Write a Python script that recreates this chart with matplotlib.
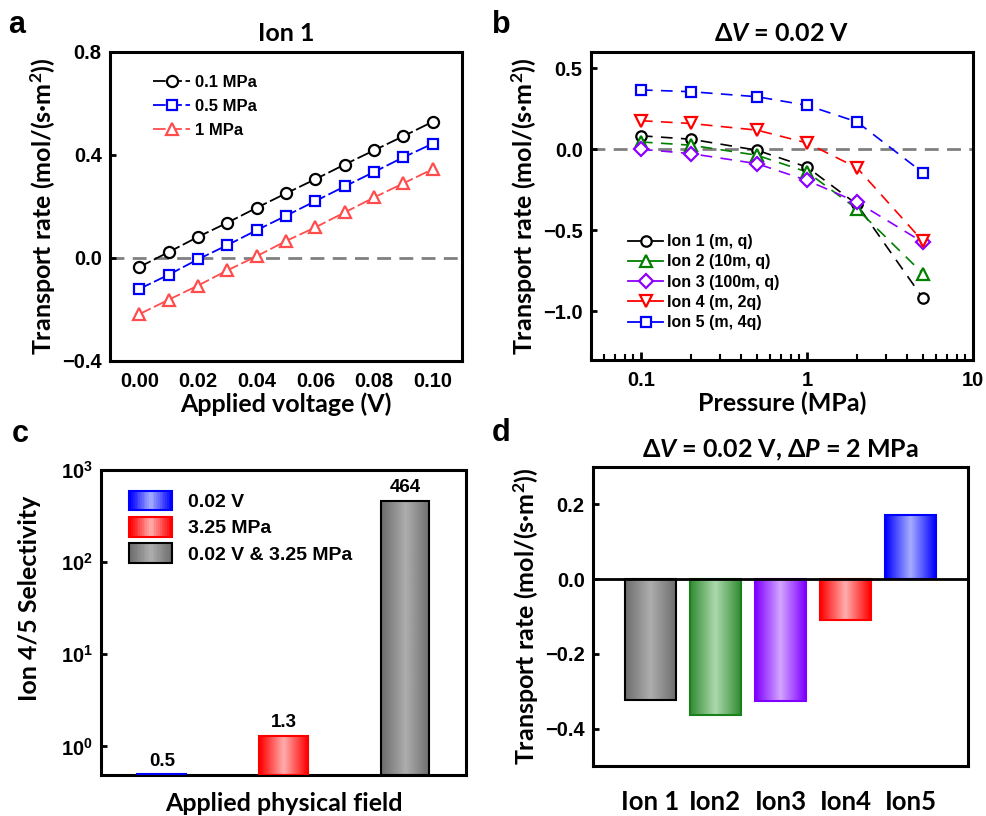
import numpy as np
import matplotlib
matplotlib.use('Agg')
from matplotlib import pyplot as plt
from matplotlib.patches import Rectangle, Patch
from matplotlib.lines import Line2D
from matplotlib.legend_handler import HandlerBase
from matplotlib.ticker import LogLocator, NullFormatter, NullLocator

plt.rcParams['font.family'] = ['Liberation Sans', 'DejaVu Sans']
plt.rcParams['font.weight'] = 'bold'
plt.rcParams['mathtext.fontset'] = 'custom'
plt.rcParams['mathtext.rm'] = 'Lato:bold'
plt.rcParams['mathtext.it'] = 'Lato:italic:bold'
plt.rcParams['mathtext.bf'] = 'Lato:bold'
plt.rcParams['axes.linewidth'] = 2.2
plt.rcParams['axes.unicode_minus'] = True

LABEL_FONT = ['Lato', 'DejaVu Sans']

# ---- panel a data
voltage = [0.00, 0.01, 0.02, 0.03, 0.04, 0.05, 0.06, 0.07, 0.08, 0.09, 0.10]
rate_01MPa = [-0.035, 0.023, 0.082, 0.137, 0.195, 0.251, 0.306, 0.363, 0.418, 0.473, 0.529]
rate_05MPa = [-0.120, -0.065, -0.005, 0.050, 0.108, 0.164, 0.221, 0.278, 0.334, 0.391, 0.444]
rate_1MPa = [-0.218, -0.162, -0.107, -0.048, 0.007, 0.066, 0.119, 0.177, 0.235, 0.290, 0.345]

# ---- panel b data
pressure = [0.1, 0.2, 0.5, 1, 2, 5]
ion1 = [0.083, 0.062, -0.006, -0.110, -0.340, -0.919]
ion2 = [0.045, 0.025, -0.037, -0.140, -0.368, -0.767]
ion3 = [0.000, -0.027, -0.089, -0.192, -0.326, -0.574]
ion4 = [0.176, 0.159, 0.118, 0.039, -0.114, -0.568]
ion5 = [0.366, 0.355, 0.324, 0.271, 0.169, -0.145]
ion_labels = ['Ion 1 (m, q)', 'Ion 2 (10m, q)', 'Ion 3 (100m, q)', 'Ion 4 (m, 2q)', 'Ion 5 (m, 4q)']

# ---- panel c data
field_labels = ['0.02 V', '3.25 MPa', '0.02 V & 3.25 MPa']
selectivity = [0.5, 1.3, 464]
selectivity_text = ['0.5', '1.3', '464']

# ---- panel d data
ion_names = ['Ion 1', 'Ion2', 'Ion3', 'Ion4', 'Ion5']
rate_d = [-0.323, -0.364, -0.325, -0.110, 0.171]

# gradient colours (edge, centre, outline)
GRAY = ((0.43, 0.43, 0.43), (0.68, 0.68, 0.68), 'black')
BLUE = ((0.0, 0.0, 1.0), (0.65, 0.68, 1.0), (0.0, 0.0, 1.0))
RED = ((1.0, 0.0, 0.0), (1.0, 0.68, 0.68), (1.0, 0.0, 0.0))
GREEN = ((0.2, 0.55, 0.2), (0.68, 0.85, 0.68), (0.1, 0.5, 0.1))
PURPLE = ((0.5, 0.0, 1.0), (0.83, 0.65, 1.0), (0.5, 0.0, 1.0))


def grad_row(edge, centre, n=64):
    t = np.abs(np.linspace(-1, 1, n))
    e = np.array(edge)
    c = np.array(centre)
    return c[None, :] * (1 - t[:, None]) + e[None, :] * t[:, None]


def gradient_bar(ax, bar, style):
    edge, centre, outline = style
    img = grad_row(edge, centre)[None, :, :]
    x0 = bar.get_x()
    x1 = x0 + bar.get_width()
    y0 = bar.get_y()
    y1 = bar.get_y() + bar.get_height()
    im = ax.imshow(img, extent=[x0, x1, min(y0, y1), max(y0, y1)], aspect='auto',
                   interpolation='bilinear', zorder=2)
    im.set_clip_path(bar)
    bar.set_facecolor('none')
    bar.set_edgecolor(outline)
    bar.set_zorder(3)


class GradHandler(HandlerBase):
    def __init__(self, style):
        super().__init__()
        self.style = style

    def create_artists(self, legend, orig_handle, xdescent, ydescent, width, height, fontsize, trans):
        edge, centre, outline = self.style
        cols = grad_row(edge, centre, 24)
        arts = []
        n = len(cols)
        for i, col in enumerate(cols):
            arts.append(Rectangle((-xdescent + i * width / n, -ydescent), width / n * 1.05, height,
                                  facecolor=col, edgecolor='none', transform=trans))
        arts.append(Rectangle((-xdescent, -ydescent), width, height, facecolor='none',
                              edgecolor=outline, lw=1.5, transform=trans))
        return arts


fig = plt.figure(figsize=(9.86, 8.16), dpi=100)

# ================= panel a
ax = fig.add_axes([0.1116, 0.5576, 0.357, 0.3787])
ax.axhline(0, color='gray', lw=2, dashes=(5, 3), zorder=1)
ax.plot(voltage, rate_01MPa, color='black', marker='o', mfc='white', mec='black', ms=8, mew=1.6,
        lw=1.3, dashes=(7, 2), label='0.1 MPa')
ax.plot(voltage, rate_05MPa, color='blue', marker='s', mfc='white', mec='blue', ms=7.5, mew=1.6,
        lw=1.3, dashes=(7, 2), label='0.5 MPa')
ax.plot(voltage, rate_1MPa, color=(1, 0.3, 0.3), marker='^', mfc='white', mec=(1, 0.3, 0.3), ms=9, mew=1.6,
        lw=1.3, dashes=(7, 2), label='1 MPa')
ax.set_xlim(-0.01, 0.11)
ax.set_ylim(-0.4, 0.8)
ax.set_xticks([0.00, 0.02, 0.04, 0.06, 0.08, 0.10])
ax.set_xticklabels(['0.00', '0.02', '0.04', '0.06', '0.08', '0.10'])
ax.set_yticks([-0.4, 0.0, 0.4, 0.8])
ax.set_yticklabels(['\u22120.4', '0.0', '0.4', '0.8'])
ax.tick_params(axis='y', direction='in', length=4, width=2, labelsize=14.5, pad=6)
ax.tick_params(axis='x', direction='in', length=0, labelsize=14.5, pad=8)
ax.set_xlabel('Applied voltage (V)', family=LABEL_FONT, fontsize=18, fontweight='bold', labelpad=1)
ax.set_ylabel('Transport rate (mol/(s\u00b7m$^2$))', family=LABEL_FONT, fontsize=18, fontweight='bold', labelpad=3)
ax.set_title('Ion 1', family=LABEL_FONT, fontsize=18, fontweight='bold', pad=8)
ax.legend(loc='upper left', bbox_to_anchor=(0.08, 0.975), frameon=False, fontsize=12,
          handlelength=2.2, handletextpad=0.3, labelspacing=0.55)

# ================= panel b
ax = fig.add_axes([0.5994, 0.5588, 0.3874, 0.3775])
ax.axhline(0, color='gray', lw=2, dashes=(5, 3), zorder=1)
styles_b = [
    (ion1, 'black', 'o', 7.5),
    (ion2, 'green', '^', 8.5),
    (ion3, (0.55, 0.0, 1.0), 'D', 7.5),
    (ion4, 'red', 'v', 9),
    (ion5, 'blue', 's', 7),
]
handles_b = []
for (vals, col, mk, ms), lab in zip(styles_b, ion_labels):
    ax.plot(pressure, vals, color=col, lw=1.2, dashes=(7, 5), zorder=2)
    ax.plot(pressure, vals, ls='none', marker=mk, mfc='white', mec=col, ms=ms, mew=1.6, zorder=3)
    handles_b.append(Line2D([], [], color=col, lw=1.3, marker=mk, mfc='white', mec=col, ms=ms, mew=1.6))
ax.set_xscale('log')
ax.set_xlim(0.05, 10)
ax.set_ylim(-1.3, 0.6)
ax.set_xticks([0.1, 1, 10])
ax.set_xticklabels(['0.1', '1', '10'])
ax.xaxis.set_minor_locator(LogLocator(base=10, subs=np.arange(2, 10)))
ax.xaxis.set_minor_formatter(NullFormatter())
ax.set_yticks([-1.0, -0.5, 0.0, 0.5])
ax.set_yticklabels(['\u22121.0', '\u22120.5', '0.0', '0.5'])
ax.tick_params(axis='y', direction='in', length=4, width=2, labelsize=14.5, pad=6)
ax.tick_params(axis='x', which='major', direction='in', length=6, width=2, labelsize=14.5, pad=8)
ax.tick_params(axis='x', which='minor', direction='in', length=4, width=1.5)
ax.set_xlabel('Pressure (MPa)', family=LABEL_FONT, fontsize=18, fontweight='bold', labelpad=1)
ax.set_ylabel('Transport rate (mol/(s\u00b7m$^2$))', family=LABEL_FONT, fontsize=18, fontweight='bold', labelpad=3)
ax.set_title('\u0394$V$ = 0.02 V', family=LABEL_FONT, fontsize=18, fontweight='bold', pad=8)
ax.legend(handles_b, ion_labels, loc='lower left', bbox_to_anchor=(0.06, 0.05), frameon=False,
          fontsize=11.5, handlelength=2.2, handletextpad=0.2, labelspacing=0.33)

# ================= panel c
ax = fig.add_axes([0.1024, 0.0502, 0.3702, 0.3738])
ax.set_yscale('log')
ax.set_xlim(-0.5, 2.5)
ax.set_ylim(0.49, 1000)
ybot = ax.get_ylim()[0]
xs = np.arange(len(selectivity))
bars = ax.bar(xs, np.array(selectivity) - ybot, width=0.4, lw=1.5, bottom=ybot)
for b, st, txt in zip(bars, [BLUE, RED, GRAY], selectivity_text):
    gradient_bar(ax, b, st)
    ax.text(b.get_x() + b.get_width() / 2, (b.get_y() + b.get_height()) * 1.12, txt, ha='center', va='bottom',
            fontsize=13.5, fontweight='bold')
ax.set_xlim(-0.5, 2.5)
ax.set_ylim(0.49, 1000)
ax.set_xticks([])
ax.yaxis.set_major_locator(LogLocator(base=10, numticks=10))
ax.yaxis.set_minor_locator(NullLocator())
ax.tick_params(axis='y', direction='in', length=4, width=2, labelsize=14.5, pad=6)
ax.set_xlabel('Applied physical field', family=LABEL_FONT, fontsize=18, fontweight='bold', labelpad=12)
ax.set_ylabel('Ion 4/5 Selectivity', family=LABEL_FONT, fontsize=18, fontweight='bold')
ax.yaxis.set_label_coords(-0.165, 0.58)
leg_handles = [Patch(label=l) for l in field_labels]
ax.legend(leg_handles, field_labels, loc='upper left', bbox_to_anchor=(0.03, 0.99), frameon=False,
          fontsize=14, handlelength=2.2, handleheight=1.2, handletextpad=0.8, labelspacing=0.3,
          handler_map={h: GradHandler(s) for h, s in zip(leg_handles, [BLUE, RED, GRAY])})

# ================= panel d
ax = fig.add_axes([0.6014, 0.0613, 0.3803, 0.3664])
xd = np.arange(len(rate_d))
bars = ax.bar(xd, rate_d, width=0.78, lw=1.5)
for b, st in zip(bars, [GRAY, GREEN, PURPLE, RED, BLUE]):
    gradient_bar(ax, b, st)
ax.axhline(0, color='black', lw=2, zorder=4)
ax.set_xlim(-0.88, 4.88)
ax.set_ylim(-0.5, 0.3)
ax.set_xticks(xd)
ax.set_xticklabels(ion_names, family=LABEL_FONT, fontsize=18.5, fontweight='bold')
ax.set_yticks([-0.4, -0.2, 0.0, 0.2])
ax.set_yticklabels(['\u22120.4', '\u22120.2', '0.0', '0.2'])
ax.tick_params(axis='y', direction='in', length=4, width=2, labelsize=14.5, pad=6)
ax.tick_params(axis='x', length=0, pad=17)
ax.set_ylabel('Transport rate (mol/(s\u00b7m$^2$))', family=LABEL_FONT, fontsize=18, fontweight='bold', labelpad=3)
ax.set_title('\u0394$V$ = 0.02 V, \u0394$P$ = 2 MPa', family=LABEL_FONT, fontsize=18, fontweight='bold', pad=7)

# panel letters
for lab, (x, y) in zip('abcd', [(0.008, 0.988), (0.499, 0.988), (0.012, 0.486), (0.499, 0.488)]):
    fig.text(x, y, lab, fontsize=22, fontweight='bold', va='top', ha='left')

fig.savefig('out.png', dpi=100)
